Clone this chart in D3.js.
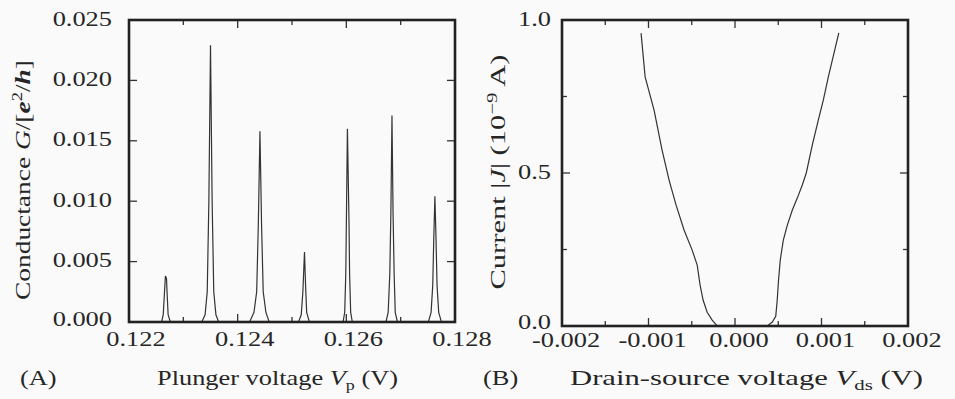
<!DOCTYPE html>
<html>
<head>
<meta charset="utf-8">
<script src="https://cdn.jsdelivr.net/npm/d3@7"></script>
<style>
  body { margin: 0; background: #fafafa; }
  svg text { font-family: "Liberation Serif", "Times New Roman", serif; font-size: 22px; fill: #262626; }
</style>
</head>
<body>
<div id="chart"></div>
<script>
var width = 955;
var height = 399;

// panel A: conductance trace vs plunger voltage [Vp (V), G (e^2/h)]
var peakTrace = [
  [0.12200, 0], [0.12260, 0],
  [0.12263, 0.0006], [0.12266, 0.0030], [0.12267, 0.0038], [0.12269, 0.0036], [0.12270, 0.0025], [0.12272, 0.0006], [0.12276, 0],
  [0.12334, 0], [0.12340, 0.0006], [0.12344, 0.0025], [0.12347, 0.0100], [0.12350, 0.0229], [0.12353, 0.0100], [0.12356, 0.0025], [0.12360, 0.0006], [0.12365, 0],
  [0.12422, 0], [0.12430, 0.0008], [0.12435, 0.0025], [0.12438, 0.0080], [0.12441, 0.0158], [0.12444, 0.0080], [0.12447, 0.0025], [0.12452, 0.0008], [0.12458, 0],
  [0.12512, 0], [0.12517, 0.0006], [0.12520, 0.0025], [0.12523, 0.0058], [0.12525, 0.0030], [0.12527, 0.0008], [0.12532, 0],
  [0.12594, 0], [0.12597, 0.0008], [0.12599, 0.0040], [0.12600, 0.0080], [0.12602, 0.0160], [0.12605, 0.0080], [0.12606, 0.0040], [0.12608, 0.0008], [0.12611, 0],
  [0.12673, 0], [0.12677, 0.0008], [0.12680, 0.0040], [0.12682, 0.0090], [0.12684, 0.0171], [0.12686, 0.0090], [0.12688, 0.0040], [0.12690, 0.0008], [0.12694, 0],
  [0.12751, 0], [0.12756, 0.0008], [0.12759, 0.0030], [0.12761, 0.0070], [0.12763, 0.0104], [0.12765, 0.0070], [0.12767, 0.0030], [0.12770, 0.0008], [0.12775, 0],
  [0.12800, 0]
];
var plungerTicks = [0.122, 0.124, 0.126, 0.128];
var plungerLabels = ["0.122", "0.124", "0.126", "0.128"];
var plungerMinor = [0.123, 0.125, 0.127];
var conductTicks = [0, 0.005, 0.010, 0.015, 0.020, 0.025];
var conductLabels = ["0.000", "0.005", "0.010", "0.015", "0.020", "0.025"];

// panel B: |J| vs drain-source voltage [Vds (V), |J| (1e-9 A)]
var ivTrace = [
  [-0.001086, 0.957], [-0.001039, 0.814], [-0.000935, 0.705], [-0.000843, 0.575], [-0.000762, 0.477],
  [-0.000681, 0.395], [-0.000588, 0.313], [-0.000495, 0.248], [-0.000437, 0.199], [-0.000403, 0.133],
  [-0.000368, 0.084], [-0.000322, 0.045], [-0.000264, 0.019], [-0.000206, 0],
  [0.000373, 0], [0.000431, 0.013], [0.000471, 0.032], [0.000488, 0.084], [0.000503, 0.149],
  [0.000523, 0.215], [0.000558, 0.280], [0.000604, 0.329], [0.000662, 0.378], [0.000720, 0.418],
  [0.000778, 0.461], [0.000824, 0.500], [0.000894, 0.592], [0.000963, 0.673], [0.001021, 0.738],
  [0.001079, 0.814], [0.001148, 0.896], [0.001200, 0.958]
];
var drainTicks = [-0.002, -0.001, 0, 0.001, 0.002];
var drainLabels = ["-0.002", "-0.001", "0.000", "0.001", "0.002"];
var drainMinor = [-0.0015, -0.0005, 0.0005, 0.0015];
var currentTicks = [0, 0.5, 1.0];
var currentLabels = ["0.0", "0.5", "1.0"];
var currentMinor = [0.25, 0.75];

var stretch = 1.2;   // the book face is set wider than Times

var svg = d3.select("#chart")
  .append("svg")
  .attr("width", width)
  .attr("height", height);

svg.append("rect")
  .attr("width", width)
  .attr("height", height)
  .style("fill", "#fafafa");

function putText(x, y, anchor, rot) {
  return svg.append("text")
    .attr("text-anchor", anchor)
    .attr("transform", "translate(" + x + "," + y + ")" + (rot ? " rotate(" + rot + ")" : "") + " scale(" + stretch + ",1)");
}

// titles are squeezed/spread to the span they take in the book
function fitText(t, span) {
  t.attr("textLength", span / stretch).attr("lengthAdjust", "spacingAndGlyphs");
}

// box, inward ticks on all four sides, tick labels
function drawPanel(p) {
  var x = p.x, y = p.y;
  var x0 = x.range()[0], x1 = x.range()[1];
  var y0 = y.range()[0], y1 = y.range()[1];
  var g = svg.append("g");

  function xTicks(vals, len) {
    vals.forEach(function(v) {
      g.append("line").attr("x1", x(v)).attr("x2", x(v)).attr("y1", y0).attr("y2", y0 - len);
      g.append("line").attr("x1", x(v)).attr("x2", x(v)).attr("y1", y1).attr("y2", y1 + len);
    });
  }
  function yTicks(vals, len) {
    vals.forEach(function(v) {
      g.append("line").attr("x1", x0).attr("x2", x0 + len).attr("y1", y(v)).attr("y2", y(v));
      g.append("line").attr("x1", x1).attr("x2", x1 - len).attr("y1", y(v)).attr("y2", y(v));
    });
  }
  xTicks(p.xTicks, 8);
  xTicks(p.xMinor, 5);
  yTicks(p.yTicks, 8);
  yTicks(p.yMinor, 5);
  g.selectAll("line").style("stroke", "#333").style("stroke-width", 1.3);

  svg.append("path")
    .datum(p.data)
    .attr("d", d3.line().x(function(d) { return x(d[0]); }).y(function(d) { return y(d[1]); }))
    .style("fill", "none")
    .style("stroke", "#333")
    .style("stroke-width", 1.2);

  svg.append("rect")
    .attr("x", x0).attr("y", y1)
    .attr("width", x1 - x0).attr("height", y0 - y1)
    .style("fill", "none")
    .style("stroke", "#222")
    .style("stroke-width", 2.6);

  p.xTicks.forEach(function(v, i) {
    putText(x(v) + p.xLabelShift, p.xLabelY, "middle").text(p.xLabels[i]);
  });
  p.yTicks.forEach(function(v, i) {
    putText(p.yLabelX, y(v) + (i == 0 ? p.zeroLift : 5.5), "end").text(p.yLabels[i]);
  });
}

var xA = d3.scaleLinear().domain([0.122, 0.128]).range([129, 455]);
var yA = d3.scaleLinear().domain([0, 0.025]).range([322, 20]);
drawPanel({
  x: xA, y: yA, data: peakTrace,
  xTicks: plungerTicks, xMinor: plungerMinor, xLabels: plungerLabels, xLabelShift: 7, xLabelY: 346,
  yTicks: conductTicks, yMinor: [], yLabels: conductLabels, yLabelX: 112, zeroLift: 4
});

var xB = d3.scaleLinear().domain([-0.002, 0.002]).range([562, 908]);
var yB = d3.scaleLinear().domain([0, 1]).range([326, 20]);
drawPanel({
  x: xB, y: yB, data: ivTrace,
  xTicks: drainTicks, xMinor: drainMinor, xLabels: drainLabels, xLabelShift: 4, xLabelY: 347,
  yTicks: currentTicks, yMinor: currentMinor, yLabels: currentLabels, yLabelX: 551, zeroLift: 3
});

// axis titles
var t;
t = putText(30, 180, "middle", -90);
t.append("tspan").text("Conductance ");
t.append("tspan").style("font-style", "italic").text("G");
t.append("tspan").text("/[");
t.append("tspan").style("font-style", "italic").style("font-weight", "bold").text("e");
t.append("tspan").attr("dy", -8).style("font-size", "15px").text("2");
t.append("tspan").attr("dy", 8).text("/");
t.append("tspan").style("font-style", "italic").style("font-weight", "bold").text("h");
t.append("tspan").text("]");
fitText(t, 240);

t = putText(157, 385, "start");
t.append("tspan").text("Plunger voltage ");
t.append("tspan").style("font-style", "italic").text("V");
t.append("tspan").attr("dy", 5).style("font-size", "15px").text("p");
t.append("tspan").attr("dy", -5).text(" (V)");
fitText(t, 241);

putText(20, 385, "start").text("(A)");

t = putText(505, 172, "middle", -90);
t.append("tspan").text("Current |");
t.append("tspan").style("font-style", "italic").text("J");
t.append("tspan").text("| (10");
t.append("tspan").attr("dy", -8).style("font-size", "15px").text("\u22129");
t.append("tspan").attr("dy", 8).text(" A)");
fitText(t, 235);

putText(483, 385, "start").text("(B)");

t = putText(570, 385, "start");
t.append("tspan").text("Drain-source voltage ");
t.append("tspan").style("font-style", "italic").text("V");
t.append("tspan").attr("dy", 5).style("font-size", "15px").text("ds");
t.append("tspan").attr("dy", -5).text(" (V)");
fitText(t, 353);
</script>
</body>
</html>
